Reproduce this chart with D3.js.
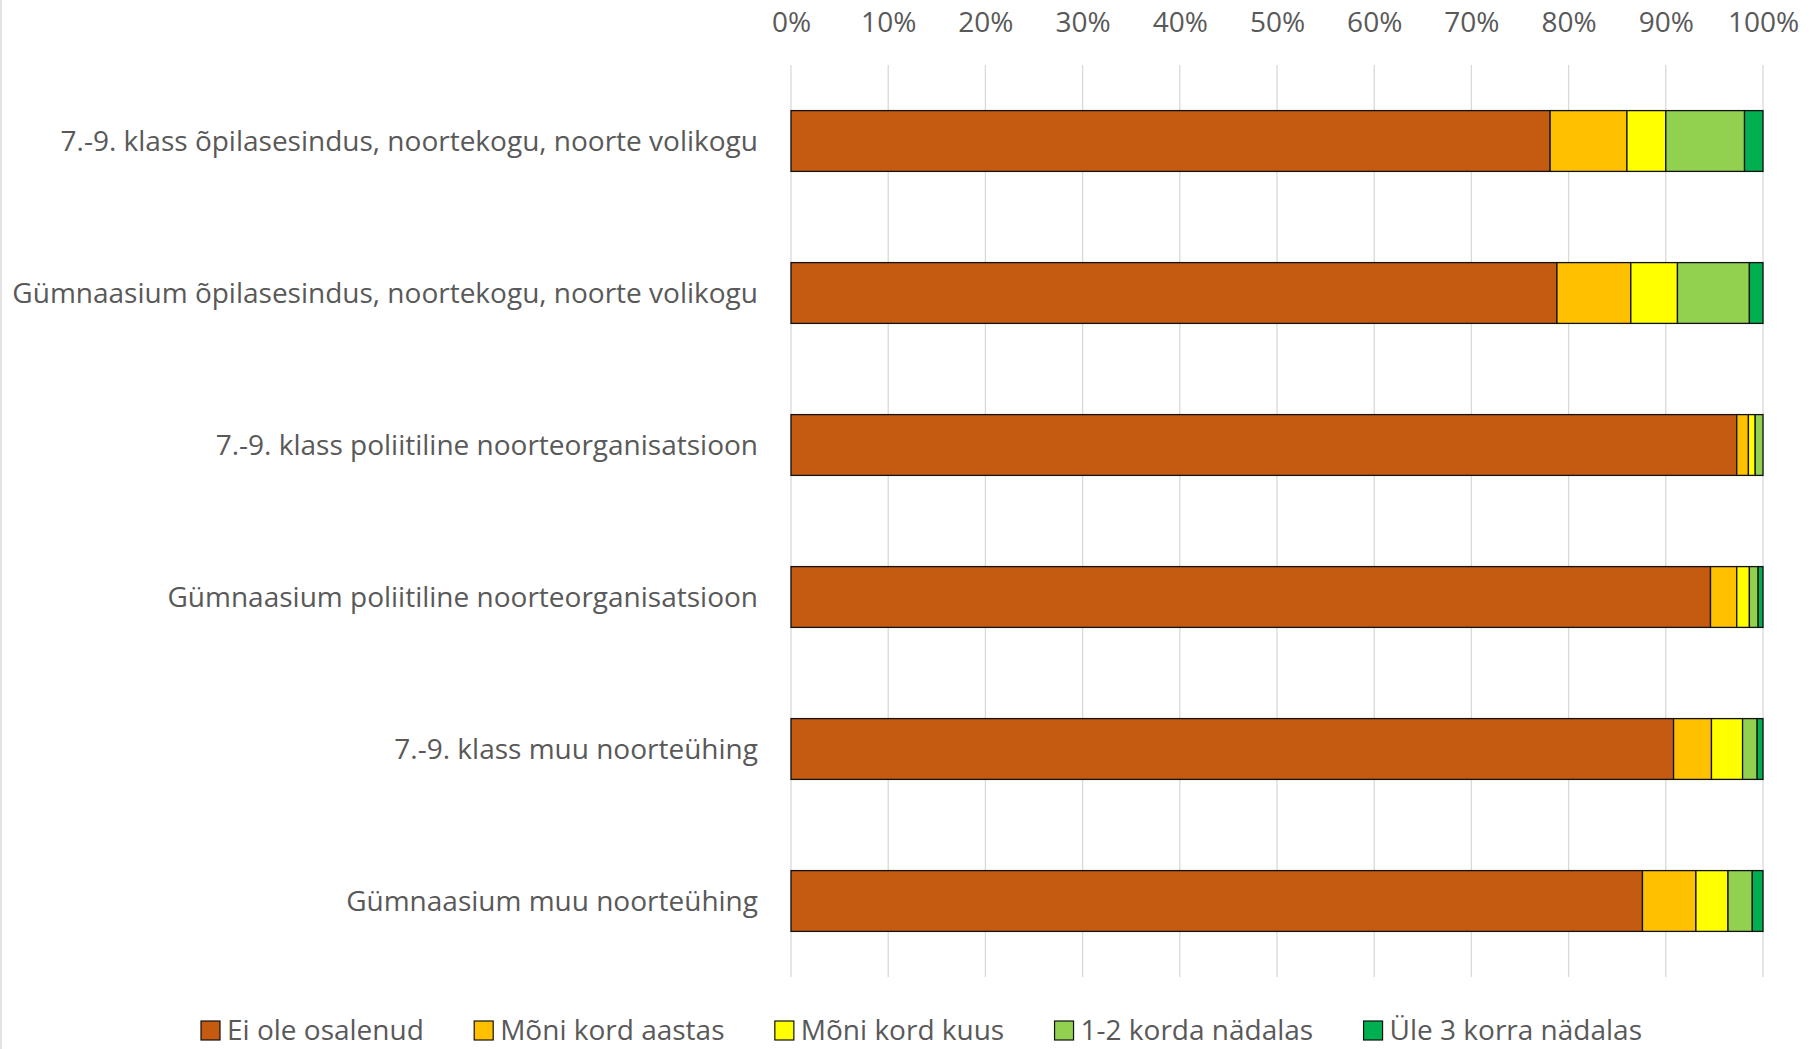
<!DOCTYPE html>
<html>
<head>
<meta charset="utf-8">
<script src="https://cdn.jsdelivr.net/npm/d3@7"></script>
<style>
  html, body { margin: 0; padding: 0; background: #fff; }
  svg { display: block; }
  text { font-family: "Open Sans", "Noto Sans", sans-serif; fill: #595959; }
</style>
</head>
<body>
<div id="chart"></div>
<script>
// categories, top to bottom
const categories = [
  "7.-9. klass õpilasesindus, noortekogu, noorte volikogu",
  "Gümnaasium õpilasesindus, noortekogu, noorte volikogu",
  "7.-9. klass poliitiline noorteorganisatsioon",
  "Gümnaasium poliitiline noorteorganisatsioon",
  "7.-9. klass muu noorteühing",
  "Gümnaasium muu noorteühing"
];

const seriesNames = ["Ei ole osalenud", "Mõni kord aastas", "Mõni kord kuus", "1-2 korda nädalas", "Üle 3 korra nädalas"];
const seriesColors = ["#C55A11", "#FFC000", "#FFFF00", "#92D050", "#00B050"];

// percent values
const eiOle    = [78.1, 78.8, 97.3, 94.6, 90.8, 87.6];
const aastas   = [7.9, 7.6, 1.2, 2.7, 3.9, 5.5];
const kuus     = [4.0, 4.8, 0.7, 1.3, 3.2, 3.3];
const nadalas  = [8.1, 7.4, 0.8, 0.9, 1.5, 2.5];
const yle3     = [1.9, 1.4, 0.0, 0.5, 0.6, 1.1];

const xTicks = [0, 10, 20, 30, 40, 50, 60, 70, 80, 90, 100];

const W = 1809, H = 1049;
const fontSize = 28;
const seriesValues = [eiOle, aastas, kuus, nadalas, yle3];

let rows = categories.map((c, i) => {
  let r = { cat: c };
  seriesNames.forEach((s, j) => { r[s] = seriesValues[j][i]; });
  return r;
});

const svg = d3.select('#chart').append('svg')
  .attr('width', W)
  .attr('height', H);

// thin border at the left edge
svg.append('line')
  .attr('x1', 1).attr('x2', 1).attr('y1', 0).attr('y2', H)
  .attr('stroke', '#d9d9d9').attr('stroke-width', 1.5);

const xScale = d3.scaleLinear()
  .domain([0, 100])
  .range([791, 1763]);

const yScale = d3.scaleBand()
  .domain(categories)
  .range([65, 977])
  .paddingInner(0.6)
  .paddingOuter(0.3);

// gridlines
svg.append('g')
  .selectAll('line')
  .data(xTicks)
  .enter()
  .append('line')
  .attr('x1', d => xScale(d))
  .attr('x2', d => xScale(d))
  .attr('y1', 65)
  .attr('y2', 977)
  .attr('stroke', '#d9d9d9')
  .attr('stroke-width', 1.3);

// top axis labels
const xAxis = d3.axisTop(xScale)
  .tickValues(xTicks)
  .tickFormat(d => d + '%')
  .tickSize(0)
  .tickPadding(0);
const gx = svg.append('g')
  .attr('transform', 'translate(0,32)')
  .call(xAxis);
gx.select('.domain').remove();
gx.selectAll('text')
  .attr('font-size', fontSize)
  .attr('dy', 0)
  .style('font-family', '"Open Sans", sans-serif')
  .attr('fill', '#595959');

// category labels
const yAxis = d3.axisLeft(yScale).tickSize(0).tickPadding(0);
const gy = svg.append('g')
  .attr('transform', 'translate(758,0)')
  .call(yAxis);
gy.select('.domain').remove();
gy.selectAll('text')
  .attr('font-size', fontSize)
  .attr('dy', '0.35em')
  .style('font-family', '"Open Sans", sans-serif')
  .attr('fill', '#595959');

// stacked bars
const stack = d3.stack().keys(seriesNames);
const stacked = stack(rows);

svg.append('g')
  .selectAll('g')
  .data(stacked)
  .enter()
  .append('g')
  .attr('fill', (d, i) => seriesColors[i])
  .selectAll('rect')
  .data(d => d)
  .enter()
  .append('rect')
  .attr('x', d => xScale(d[0]))
  .attr('y', d => yScale(d.data.cat))
  .attr('width', d => xScale(d[1]) - xScale(d[0]))
  .attr('height', yScale.bandwidth())
  .attr('stroke', (d) => (d[1] - d[0]) > 0 ? '#111' : 'none')
  .attr('stroke-width', 1.3);

// legend
const legend = svg.append('g').attr('class', 'legend');
let items = legend.selectAll('g')
  .data(seriesNames)
  .enter()
  .append('g');
items.append('rect')
  .attr('width', 19)
  .attr('height', 19)
  .attr('y', 1021)
  .attr('fill', (d, i) => seriesColors[i])
  .attr('stroke', '#111')
  .attr('stroke-width', 1.2);
items.append('text')
  .attr('x', 26)
  .attr('y', 1040)
  .attr('font-size', fontSize)
  .text(d => d);

// spread legend items over the same span as the original
let widths = [];
items.each(function() {
  widths.push(26 + d3.select(this).select('text').node().getComputedTextLength());
});
const legStart = 201, legEnd = 1642;
const gap = (legEnd - legStart - d3.sum(widths)) / (widths.length - 1);
let x0 = legStart;
items.attr('transform', (d, i) => {
  let t = 'translate(' + x0 + ',0)';
  x0 += widths[i] + gap;
  return t;
});
</script>
</body>
</html>
